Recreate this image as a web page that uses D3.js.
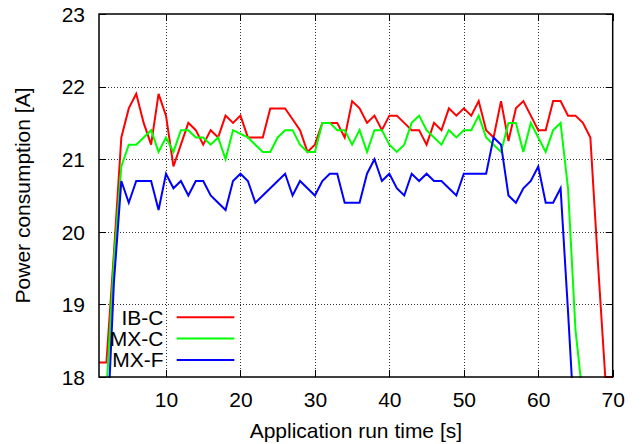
<!DOCTYPE html>
<html>
<head>
<meta charset="utf-8">
<script src="https://cdn.jsdelivr.net/npm/d3@7"></script>
<style>
  html, body { margin: 0; padding: 0; background: #fff; }
  svg { display: block; }
  text { font-family: "Liberation Sans", Arial, Helvetica, sans-serif; fill: #000; }
</style>
</head>
<body>
<svg id="chart" width="641" height="444"></svg>
<script>
// ---- data ----
const times = [1,2,3,4,5,6,7,8,9,10,11,12,13,14,15,16,17,18,19,20,
  21,22,23,24,25,26,27,28,29,30,31,32,33,34,35,36,37,38,39,40,
  41,42,43,44,45,46,47,48,49,50,51,52,53,54,55,56,57,58,59,60,
  61,62,63,64,65,66,67,68,69,70];

const ibC = [18.2,18.2,19.7,21.3,21.7,21.9,21.5,21.2,21.9,21.6,
  20.9,21.2,21.5,21.4,21.2,21.4,21.3,21.6,21.5,21.6,
  21.3,21.3,21.3,21.7,21.7,21.7,21.55,21.4,21.1,21.2,
  21.5,21.5,21.5,21.3,21.8,21.7,21.5,21.6,21.4,21.6,
  21.6,21.5,21.4,21.4,21.2,21.5,21.4,21.7,21.6,21.7,
  21.6,21.8,21.4,21.3,21.8,21.25,21.7,21.8,21.6,21.4,
  21.4,21.8,21.8,21.6,21.6,21.5,21.3,19.6,18.0,18.0];

const mxC = [17.8,17.8,19.6,20.9,21.2,21.2,21.3,21.4,21.1,21.3,
  21.1,21.4,21.4,21.3,21.3,21.2,21.3,21.0,21.4,21.35,
  21.3,21.2,21.1,21.1,21.3,21.4,21.4,21.2,21.1,21.1,
  21.5,21.5,21.4,21.4,21.2,21.4,21.1,21.4,21.4,21.2,
  21.1,21.2,21.5,21.6,21.4,21.3,21.2,21.4,21.3,21.4,
  21.4,21.6,21.3,21.2,21.1,21.5,21.5,21.1,21.5,21.3,
  21.1,21.4,21.5,20.6,18.65,17.7,17.7,17.7,17.7,17.7];

const mxF = [17.0,17.0,19.3,20.7,20.4,20.7,20.7,20.7,20.3,20.8,
  20.6,20.7,20.5,20.7,20.7,20.5,20.4,20.3,20.7,20.8,
  20.7,20.4,20.5,20.6,20.7,20.8,20.5,20.7,20.6,20.5,
  20.7,20.8,20.8,20.4,20.4,20.4,20.8,21.0,20.7,20.8,
  20.6,20.5,20.8,20.7,20.8,20.7,20.7,20.6,20.5,20.8,
  20.8,20.8,20.8,21.3,21.2,20.5,20.4,20.6,20.7,20.9,
  20.4,20.4,20.6,18.9,17.1,17.0,17.0,17.0,17.0,17.0];

const seriesNames = ["IB-C", "MX-C", "MX-F"];
const seriesColors = ["#ff0000", "#00ff00", "#0000ff"];
const xTicks = [10, 20, 30, 40, 50, 60, 70];
const yTicks = [18, 19, 20, 21, 22, 23];
const xTitle = "Application run time [s]";
const yTitle = "Power consumption [A]";

// ---- layout ----
const svg = d3.select("#chart");
const pLeft = 99, pRight = 612.7, pTop = 14, pBottom = 377;
const x = d3.scaleLinear().domain([1, 70]).range([pLeft, pRight]);
const y = d3.scaleLinear().domain([18, 23]).range([pBottom, pTop]);
const fontSize = 21;
const fontFam = '"Liberation Sans", Arial, sans-serif';

// grid
const grid = svg.append("g").attr("stroke", "#333").attr("stroke-width", 1)
  .attr("stroke-dasharray", "1,2");
grid.selectAll("line.gx").data(xTicks.filter(t => t < 70)).join("line")
  .attr("x1", d => Math.round(x(d)) + 0.5).attr("x2", d => Math.round(x(d)) + 0.5)
  .attr("y1", pTop).attr("y2", pBottom);
grid.selectAll("line.gy").data(yTicks.filter(t => t > 18 && t < 23)).join("line")
  .attr("y1", d => Math.round(y(d)) + 0.5).attr("y2", d => Math.round(y(d)) + 0.5)
  .attr("x1", pLeft).attr("x2", pRight);

// tick marks (inward, mirrored)
const tl = 7;
const ticks = svg.append("g").attr("stroke", "#000").attr("stroke-width", 1);
xTicks.forEach(t => {
  const xx = Math.round(x(t)) + 0.5;
  ticks.append("line").attr("x1", xx).attr("x2", xx).attr("y1", pBottom).attr("y2", pBottom - tl);
  ticks.append("line").attr("x1", xx).attr("x2", xx).attr("y1", pTop).attr("y2", pTop + tl);
});
yTicks.forEach(t => {
  const yy = Math.round(y(t)) + 0.5;
  ticks.append("line").attr("x1", pLeft).attr("x2", pLeft + tl).attr("y1", yy).attr("y2", yy);
  ticks.append("line").attr("x1", pRight).attr("x2", pRight - tl).attr("y1", yy).attr("y2", yy);
});

// tick labels via axes
const xAxis = svg.append("g").attr("transform", `translate(0,${pBottom})`)
  .call(d3.axisBottom(x).tickValues(xTicks).tickSize(0).tickPadding(0).tickFormat(d3.format("d")));
xAxis.select(".domain").remove();
xAxis.selectAll("text").attr("y", 29.7).attr("dy", null)
  .style("font-size", fontSize + "px").style("font-family", fontFam).attr("fill", "#000");

const yAxis = svg.append("g").attr("transform", `translate(${pLeft},0)`)
  .call(d3.axisLeft(y).tickValues(yTicks).tickSize(0).tickPadding(14).tickFormat(d3.format("d")));
yAxis.select(".domain").remove();
yAxis.selectAll("text").attr("dy", "0.35em")
  .style("font-size", fontSize + "px").style("font-family", fontFam).attr("fill", "#000");

// clip
svg.append("defs").append("clipPath").attr("id", "plotclip")
  .append("rect").attr("x", pLeft - 1).attr("y", pTop - 1)
  .attr("width", pRight - pLeft + 2).attr("height", pBottom - pTop + 2);

// lines
const line = d3.line().x((d, i) => x(times[i])).y(d => y(d));
const allSeries = [ibC, mxC, mxF];
svg.append("g").attr("clip-path", "url(#plotclip)")
  .selectAll("path").data(allSeries).join("path")
  .attr("d", d => line(d))
  .attr("fill", "none")
  .attr("stroke", (d, i) => seriesColors[i])
  .attr("stroke-width", 2)
  .attr("stroke-linejoin", "miter");

// border
svg.append("rect").attr("x", pLeft).attr("y", pTop)
  .attr("width", pRight - pLeft).attr("height", pBottom - pTop)
  .attr("fill", "none").attr("stroke", "#000").attr("stroke-width", 1.5);

// legend
const legRowY = [317.3, 338.6, 360];
const leg = svg.append("g");
seriesNames.forEach((name, i) => {
  leg.append("text").attr("x", 163.5).attr("y", legRowY[i]).attr("dy", "0.35em")
    .attr("text-anchor", "end").style("font-size", fontSize + "px").text(name);
  leg.append("line").attr("x1", 176.7).attr("x2", 234.3)
    .attr("y1", legRowY[i]).attr("y2", legRowY[i])
    .attr("stroke", seriesColors[i]).attr("stroke-width", 2);
});

// axis titles
svg.append("text").attr("x", (pLeft + pRight) / 2).attr("y", 438)
  .attr("text-anchor", "middle").style("font-size", fontSize + "px").text(xTitle);
svg.append("text").attr("transform", `translate(30,${(pTop + pBottom) / 2}) rotate(-90)`)
  .attr("text-anchor", "middle").style("font-size", fontSize + "px").text(yTitle);
</script>
</body>
</html>
